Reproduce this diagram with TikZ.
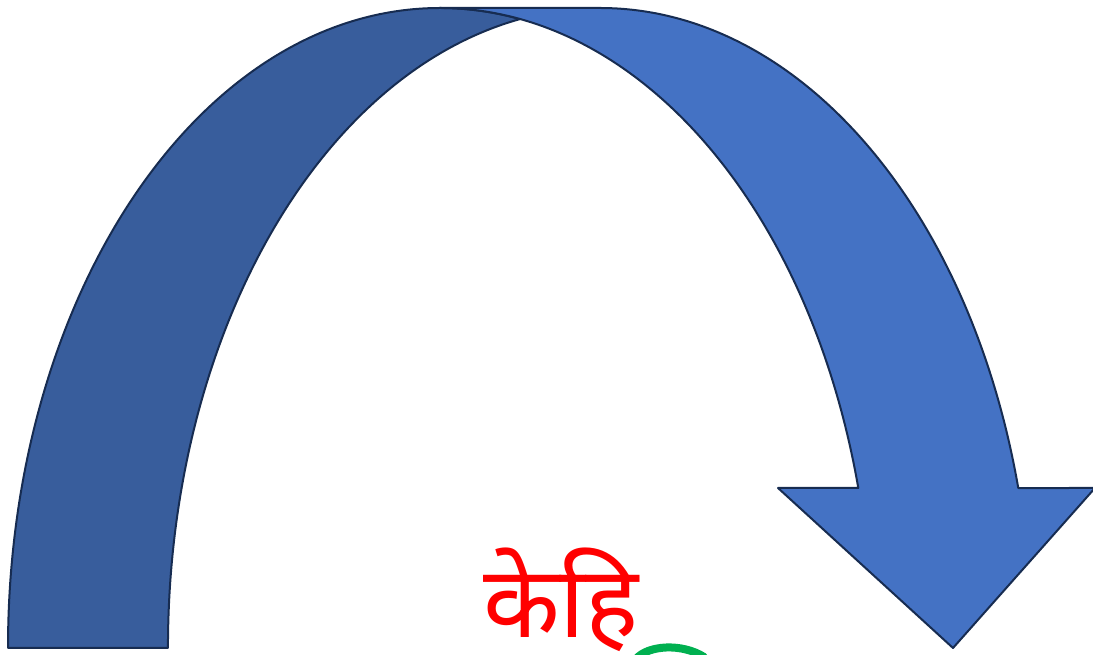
\documentclass[tikz,border=0pt]{standalone}
\usepackage{fontspec}
\newfontfamily\devfont[Script=Devanagari]{Noto Sans}
\definecolor{bandback}{HTML}{385D9C}
\definecolor{bandfront}{HTML}{4472C4}
\definecolor{bandline}{HTML}{172C51}
\definecolor{kehired}{HTML}{FF0000}
\definecolor{leafgreen}{HTML}{00B050}
\begin{document}
\begin{tikzpicture}[x=1pt,y=1pt,line width=2pt,line join=round,
    band/.style={draw=bandline},
    ell/.style={x radius=432,y radius=640}]
    \path[use as bounding box] (0,0) rectangle (1093,655);
    % back half of the curved arrow
    \draw[band,fill=bandback] (8,7)
      arc[start angle=180,end angle=90,ell]
      arc[start angle=90,end angle=79.33,ell]
      arc[start angle=100.67,end angle=180,ell] -- cycle;
    % front half with the head
    \draw[band,fill=bandfront] (440,647) -- (600,647)
      arc[start angle=90,end angle=14.4775,ell]
      -- (1095,167) -- (953,7) -- (778,167) -- (858.3,167)
      arc[start angle=14.4775,end angle=90,ell] -- cycle;
    \node[anchor=base,inner sep=0pt,text=kehired,text depth=0pt,
      font=\devfont\fontsize{100}{110}\selectfont] (kehi) at (561,17) {केहि};
    \draw[leafgreen,line width=8pt,line cap=round]
      (636,-4) .. controls (648,10) and (682,12) .. (704,-2);
  \end{tikzpicture}
\end{document}
